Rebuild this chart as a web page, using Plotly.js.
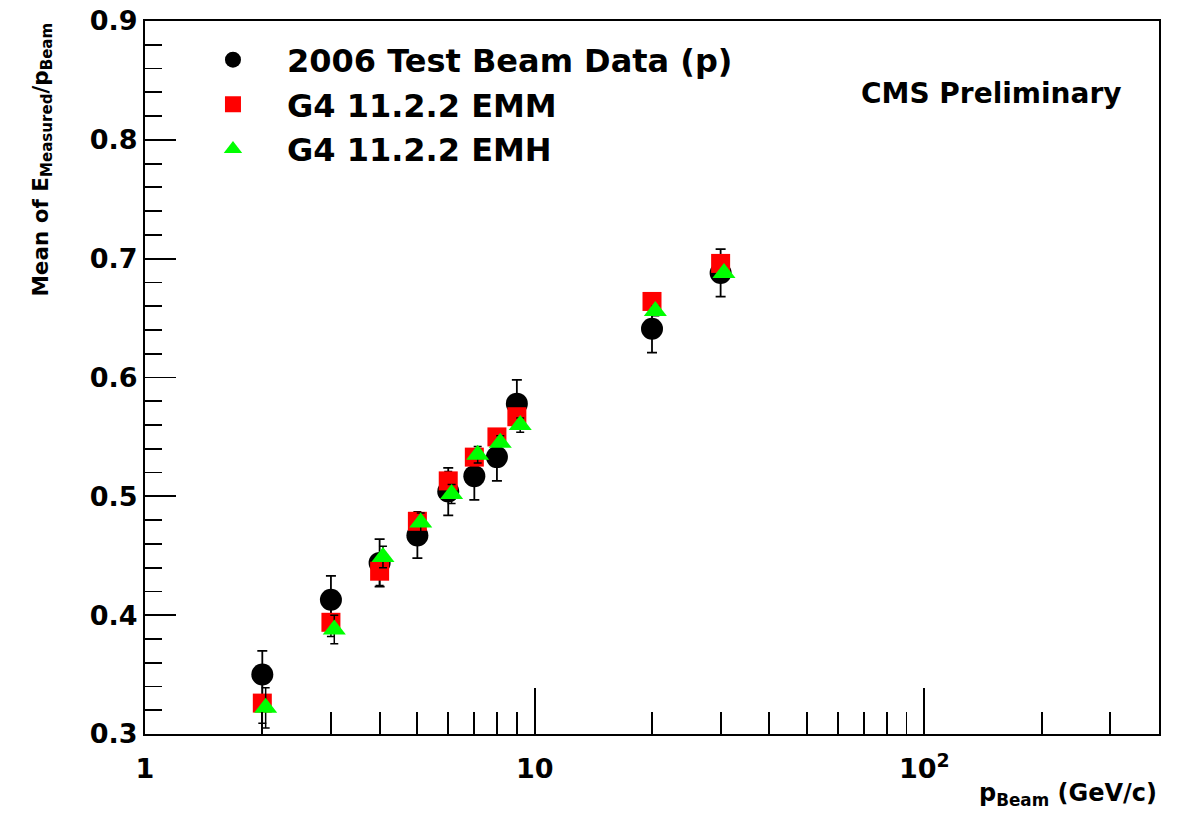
<!DOCTYPE html>
<html>
<head>
<meta charset="utf-8">
<script src="https://cdn.plot.ly/plotly-3.0.1.min.js"></script>
<style>
html,body{margin:0;padding:0;background:#fff;}
#chart{width:1182px;height:816px;}
</style>
</head>
<body>
<div id="chart"></div>
<script>
// Beam momentum (GeV/c)
var pBeam      = [2, 3, 4, 5, 6, 7, 8, 9, 20, 30];
var pBeamEMH   = [2.04, 3.06, 4.08, 5.1, 6.12, 7.14, 8.16, 9.18, 20.4, 30.6];
// Mean of E_measured / p_beam
var dataMean   = [0.350, 0.413, 0.444, 0.467, 0.504, 0.517, 0.533, 0.578, 0.641, 0.688];
var dataErr    = [0.020, 0.020, 0.020, 0.019, 0.020, 0.020, 0.020, 0.020, 0.020, 0.020];
var emmMean    = [0.326, 0.394, 0.437, 0.479, 0.513, 0.533, 0.550, 0.567, 0.664, 0.696];
var emmErr     = [0.017, 0.012, 0.012, 0.008, 0.008, 0.007, 0.006, 0.006, 0.004, 0.003];
var emhMean    = [0.322, 0.388, 0.449, 0.478, 0.502, 0.535, 0.545, 0.560, 0.656, 0.688];
var emhErr     = [0.017, 0.012, 0.009, 0.008, 0.008, 0.007, 0.006, 0.006, 0.004, 0.003];

var seriesNames = ['2006 Test Beam Data (p)', 'G4 11.2.2 EMM', 'G4 11.2.2 EMH'];
var xTickVals = [1, 10, 100];
var xTickText = ['1', '10', '10<sup>2</sup>'];

var FONT = 'DejaVu Sans, Arial, sans-serif';

var traces = [
  {
    x: pBeam, y: dataMean, name: seriesNames[0], type: 'scatter', mode: 'markers',
    marker: {symbol: 'circle', size: 22, color: '#000000'},
    error_y: {type: 'data', array: dataErr, visible: true, color: '#000000', thickness: 1.8, width: 5}
  },
  {
    x: pBeam, y: emmMean, name: seriesNames[1], type: 'scatter', mode: 'markers',
    marker: {symbol: 'square', size: 19, color: '#ff0000'},
    error_y: {type: 'data', array: emmErr, visible: true, color: '#000000', thickness: 1.5, width: 4}
  },
  {
    x: pBeamEMH, y: emhMean, name: seriesNames[2], type: 'scatter', mode: 'markers',
    marker: {symbol: 'triangle-up', size: 20, color: '#00ff00'},
    error_y: {type: 'data', array: emhErr, visible: true, color: '#000000', thickness: 1.5, width: 4}
  }
];

var layout = {
  width: 1182, height: 816,
  paper_bgcolor: '#ffffff', plot_bgcolor: '#ffffff',
  margin: {l: 145, r: 23, t: 21, b: 82},
  font: {family: FONT, color: '#000000', weight: 'bold'},
  showlegend: true,
  legend: {
    x: 0.0335, y: 0.984, xanchor: 'left', yanchor: 'top',
    bgcolor: 'rgba(255,255,255,0)', borderwidth: 0,
    font: {family: FONT, size: 32, color: '#000000', weight: 'bold'},
    itemwidth: 98, tracegroupgap: 0
  },
  xaxis: {
    type: 'log', range: [0, Math.log10(400)],
    showgrid: false, zeroline: false,
    showline: true, linecolor: '#000000', linewidth: 2, mirror: true,
    ticks: 'inside', ticklen: 46, tickwidth: 1.8, tickcolor: '#000000',
    tickvals: xTickVals, ticktext: xTickText,
    ticklabelstandoff: 10,
    tickfont: {family: FONT, size: 27, color: '#000000', weight: 'bold'},
    minor: {ticks: 'inside', ticklen: 22, tickwidth: 1.8, tickcolor: '#000000', dtick: 'D1', showgrid: false}
  },
  yaxis: {
    range: [0.3, 0.9],
    showgrid: false, zeroline: false,
    showline: true, linecolor: '#000000', linewidth: 2, mirror: true,
    ticks: 'inside', ticklen: 31, tickwidth: 1.8, tickcolor: '#000000',
    tick0: 0.3, dtick: 0.1, tickformat: '.1f',
    ticklabelstandoff: 0,
    tickfont: {family: FONT, size: 27, color: '#000000', weight: 'bold'},
    minor: {ticks: 'inside', ticklen: 17, tickwidth: 1.8, tickcolor: '#000000', dtick: 0.02, tick0: 0.3, showgrid: false}
  },
  annotations: [
    {
      text: 'Mean of E<sub>Measured</sub>/p<sub>Beam</sub>',
      xref: 'paper', yref: 'paper', x: -0.102, y: 1.0, xanchor: 'center', yanchor: 'top',
      textangle: -90, showarrow: false,
      font: {family: FONT, size: 21.5, color: '#000000', weight: 'bold'}
    },
    {
      text: 'p<sub>Beam</sub> (GeV/c)',
      xref: 'paper', yref: 'paper', x: 1.0, y: -0.06, xanchor: 'right', yanchor: 'top',
      showarrow: false,
      font: {family: FONT, size: 24, color: '#000000', weight: 'bold'}
    },
    {
      text: 'CMS Preliminary',
      xref: 'paper', yref: 'paper', x: 0.835, y: 0.899, xanchor: 'center', yanchor: 'middle',
      showarrow: false,
      font: {family: FONT, size: 28, color: '#000000', weight: 'bold'}
    }
  ]
};

Plotly.newPlot('chart', traces, layout, {displayModeBar: false, staticPlot: true});
</script>
</body>
</html>
